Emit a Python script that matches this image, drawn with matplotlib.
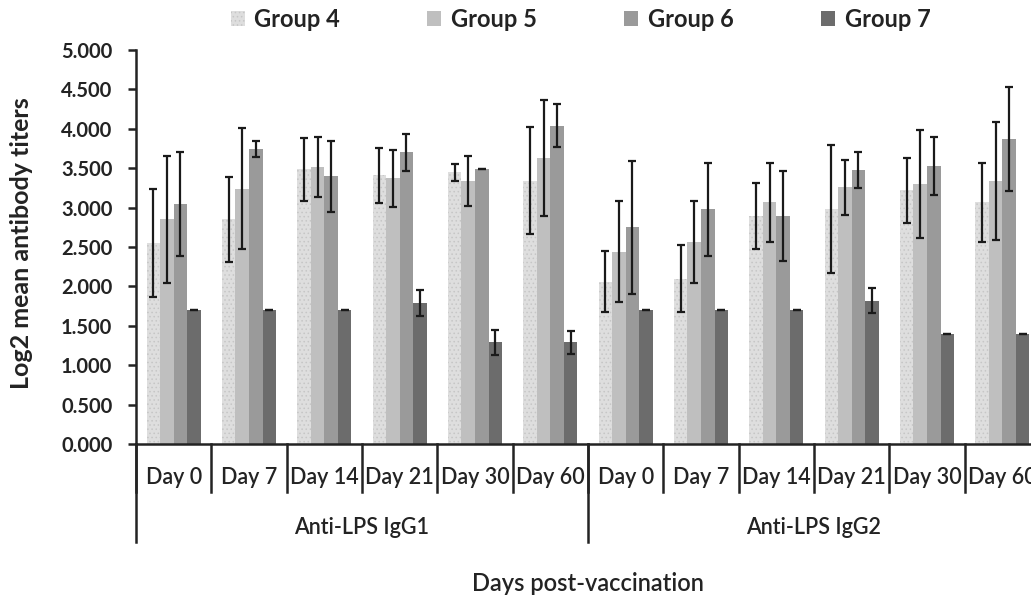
import numpy as np
import matplotlib.pyplot as plt

plt.rcParams['font.family'] = ['Lato', 'DejaVu Sans']
plt.rcParams['hatch.linewidth'] = 0.6

days = ['Day 0', 'Day 7', 'Day 14', 'Day 21', 'Day 30', 'Day 60']
antibodies = ['Anti-LPS IgG1', 'Anti-LPS IgG2']
series = ['Group 4', 'Group 5', 'Group 6', 'Group 7']

# IgG1 days then IgG2 days
g4 = [2.55, 2.85, 3.49, 3.41, 3.45, 3.34, 2.06, 2.10, 2.89, 2.98, 3.22, 3.07]
g4_err = [0.69, 0.54, 0.40, 0.35, 0.11, 0.68, 0.39, 0.42, 0.42, 0.81, 0.41, 0.50]
g5 = [2.85, 3.24, 3.52, 3.37, 3.34, 3.63, 2.44, 2.56, 3.07, 3.26, 3.30, 3.34]
g5_err = [0.81, 0.77, 0.38, 0.36, 0.32, 0.74, 0.64, 0.52, 0.50, 0.35, 0.68, 0.75]
g6 = [3.05, 3.74, 3.40, 3.70, 3.49, 4.04, 2.75, 2.98, 2.89, 3.48, 3.53, 3.87]
g6_err = [0.66, 0.10, 0.45, 0.23, 0.00, 0.27, 0.84, 0.59, 0.57, 0.23, 0.37, 0.66]
g7 = [1.70, 1.70, 1.70, 1.79, 1.29, 1.29, 1.70, 1.70, 1.70, 1.82, 1.40, 1.40]
g7_err = [0.00, 0.00, 0.00, 0.16, 0.16, 0.15, 0.00, 0.00, 0.00, 0.16, 0.00, 0.00]

values = [g4, g5, g6, g7]
errors = [g4_err, g5_err, g6_err, g7_err]
colors = ['#dedede', '#bfbfbf', '#9a9a9a', '#6c6c6c']
hatches = ['....', None, None, None]
dark = '#232323'

fig = plt.figure(figsize=(10.31, 5.96), dpi=100)
ax = fig.add_axes([0.1319, 0.255, 0.8768, 0.661])

n = len(days) * len(antibodies)
x = np.arange(n)
w = 0.18
offsets = [-1.5 * w, -0.5 * w, 0.5 * w, 1.5 * w]
for k in range(4):
    ax.bar(x + offsets[k], values[k], w, color=colors[k], label=series[k],
           hatch=hatches[k], edgecolor='#c6c6c6' if hatches[k] else colors[k],
           linewidth=0, zorder=2)
    ax.errorbar(x + offsets[k], values[k], yerr=errors[k], fmt='none',
                ecolor='#1a1a1a', elinewidth=1.6, capsize=3.2, capthick=1.6, zorder=3)

ax.set_xlim(-0.5, n - 0.5)
ax.set_ylim(0, 5)
ax.set_yticks(np.arange(0, 5.01, 0.5))
ax.set_yticklabels([f'{v:.3f}' for v in np.arange(0, 5.01, 0.5)],
                   fontsize=14.5, fontweight='bold', color=dark)
ax.tick_params(axis='y', length=6, width=1.8, color=dark, pad=11)
ax.set_xticks([])
ax.spines['top'].set_visible(False)
ax.spines['right'].set_visible(False)
ax.spines['left'].set_linewidth(1.8)
ax.spines['bottom'].set_linewidth(1.8)
ax.spines['left'].set_color(dark)
ax.spines['bottom'].set_color(dark)

# multi-level category axis
trans = ax.get_xaxis_transform()
for b in np.arange(-0.5, n, 1.0):
    ax.plot([b, b], [0, -0.122], transform=trans, color=dark, lw=1.8, clip_on=False)
for b in [-0.5, len(days) - 0.5, n - 0.5]:
    ax.plot([b, b], [0, -0.249], transform=trans, color=dark, lw=1.8, clip_on=False)
for i in range(n):
    ax.text(i, -0.084, days[i % len(days)], transform=trans, ha='center', va='center',
            fontsize=15.5, fontweight='semibold', color=dark)
for j, name in enumerate(antibodies):
    ax.text(j * len(days) + (len(days) - 1) / 2, -0.211, name, transform=trans,
            ha='center', va='center', fontsize=15.5, fontweight='semibold', color=dark)
ax.text(0.5, -0.353, 'Days post-vaccination', transform=ax.transAxes,
        ha='center', va='center', fontsize=17, fontweight='semibold', color=dark)

fig.text(22 / 1031, 1 - 243 / 596, 'Log2 mean antibody titers', rotation=90,
         ha='center', va='center', fontsize=18, fontweight='bold', color=dark)

fig.legend(loc='center', bbox_to_anchor=(0.563, 0.968), ncol=4, frameon=False,
           prop={'size': 17, 'weight': 'bold'}, handlelength=0.6, handleheight=0.6,
           handletextpad=0.4, columnspacing=3.7, labelcolor=dark)

fig.savefig('out.png', dpi=100)
